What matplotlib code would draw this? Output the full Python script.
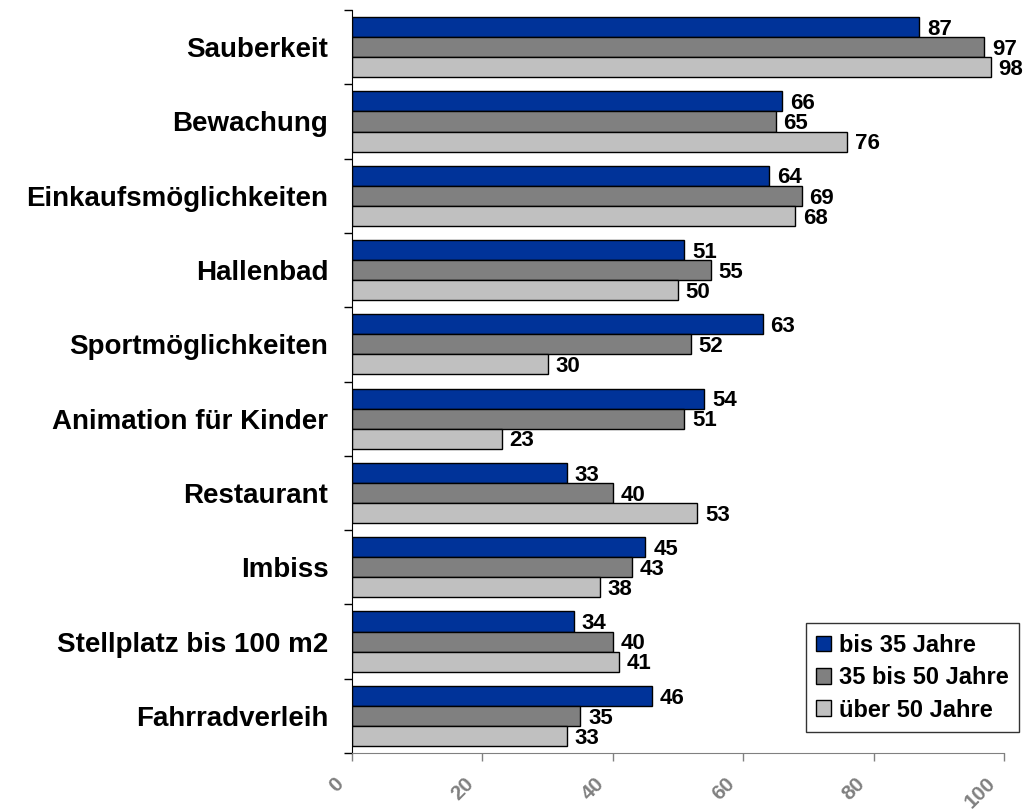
import numpy as np
import matplotlib.pyplot as plt
import matplotlib.transforms as mtransforms

plt.rcParams['font.family'] = ['Liberation Sans', 'DejaVu Sans']

categories = ['Sauberkeit', 'Bewachung', 'Einkaufsmöglichkeiten', 'Hallenbad',
              'Sportmöglichkeiten', 'Animation für Kinder', 'Restaurant',
              'Imbiss', 'Stellplatz bis 100 m2', 'Fahrradverleih']
bis35 = [87, 66, 64, 51, 63, 54, 33, 45, 34, 46]
bis50 = [97, 65, 69, 55, 52, 51, 40, 43, 40, 35]
ueber50 = [98, 76, 68, 50, 30, 23, 53, 38, 41, 33]
series_names = ['bis 35 Jahre', '35 bis 50 Jahre', 'über 50 Jahre']
colors = ['#003399', '#808080', '#C0C0C0']

fig = plt.figure(figsize=(10.25, 8.09), dpi=100)
ax = fig.add_axes([0.3434, 0.0692, 0.636, 0.9184])

n = len(categories)
y = np.arange(n)
h = 0.27
for i, (vals, name, c) in enumerate(zip([bis35, bis50, ueber50], series_names, colors)):
    pos = y + (i - 1) * h
    ax.barh(pos, vals, height=h, color=c, edgecolor='black', linewidth=1, label=name)
    for p, v in zip(pos, vals):
        ax.text(v + 1.2, p + 0.03, str(v), va='center', ha='left', fontsize=16,
                fontweight='bold', color='black')

ax.set_ylim(n - 0.5, -0.5)
ax.set_xlim(0, 100)
ax.set_yticks(np.arange(n + 1) - 0.5)
ax.set_yticklabels([])
ax.set_yticks(y, minor=True)
ax.set_yticklabels(categories, minor=True, fontsize=20, fontweight='bold')
ax.tick_params(axis='y', which='minor', length=0, pad=17)
ax.tick_params(axis='y', which='major', length=6, width=1, color='black')

ax.set_xticks([0, 20, 40, 60, 80, 100])
ax.set_xticklabels(['0', '20', '40', '60', '80', '100'], rotation=45, ha='right',
                   fontsize=15, fontweight='bold', color='#808080')
ax.tick_params(axis='x', length=6, width=1, color='#808080', pad=9)
shift = mtransforms.ScaledTranslation(-5 / 100, 0, fig.dpi_scale_trans)
for lbl in ax.get_xticklabels():
    lbl.set_transform(lbl.get_transform() + shift)

ax.spines['top'].set_visible(False)
ax.spines['right'].set_visible(False)
ax.spines['bottom'].set_color('#808080')
ax.spines['left'].set_color('black')

leg = ax.legend(loc='upper right', bbox_to_anchor=(0.9941, 0.2299),
                bbox_transform=fig.transFigure, borderaxespad=0,
                prop={'weight': 'bold', 'size': 17}, frameon=True, fancybox=False,
                edgecolor='black', handlelength=0.64, handleheight=0.64,
                handletextpad=0.3, borderpad=0.45, labelspacing=0.4)
leg.get_frame().set_linewidth(1)

fig.savefig('out.png', dpi=100)
